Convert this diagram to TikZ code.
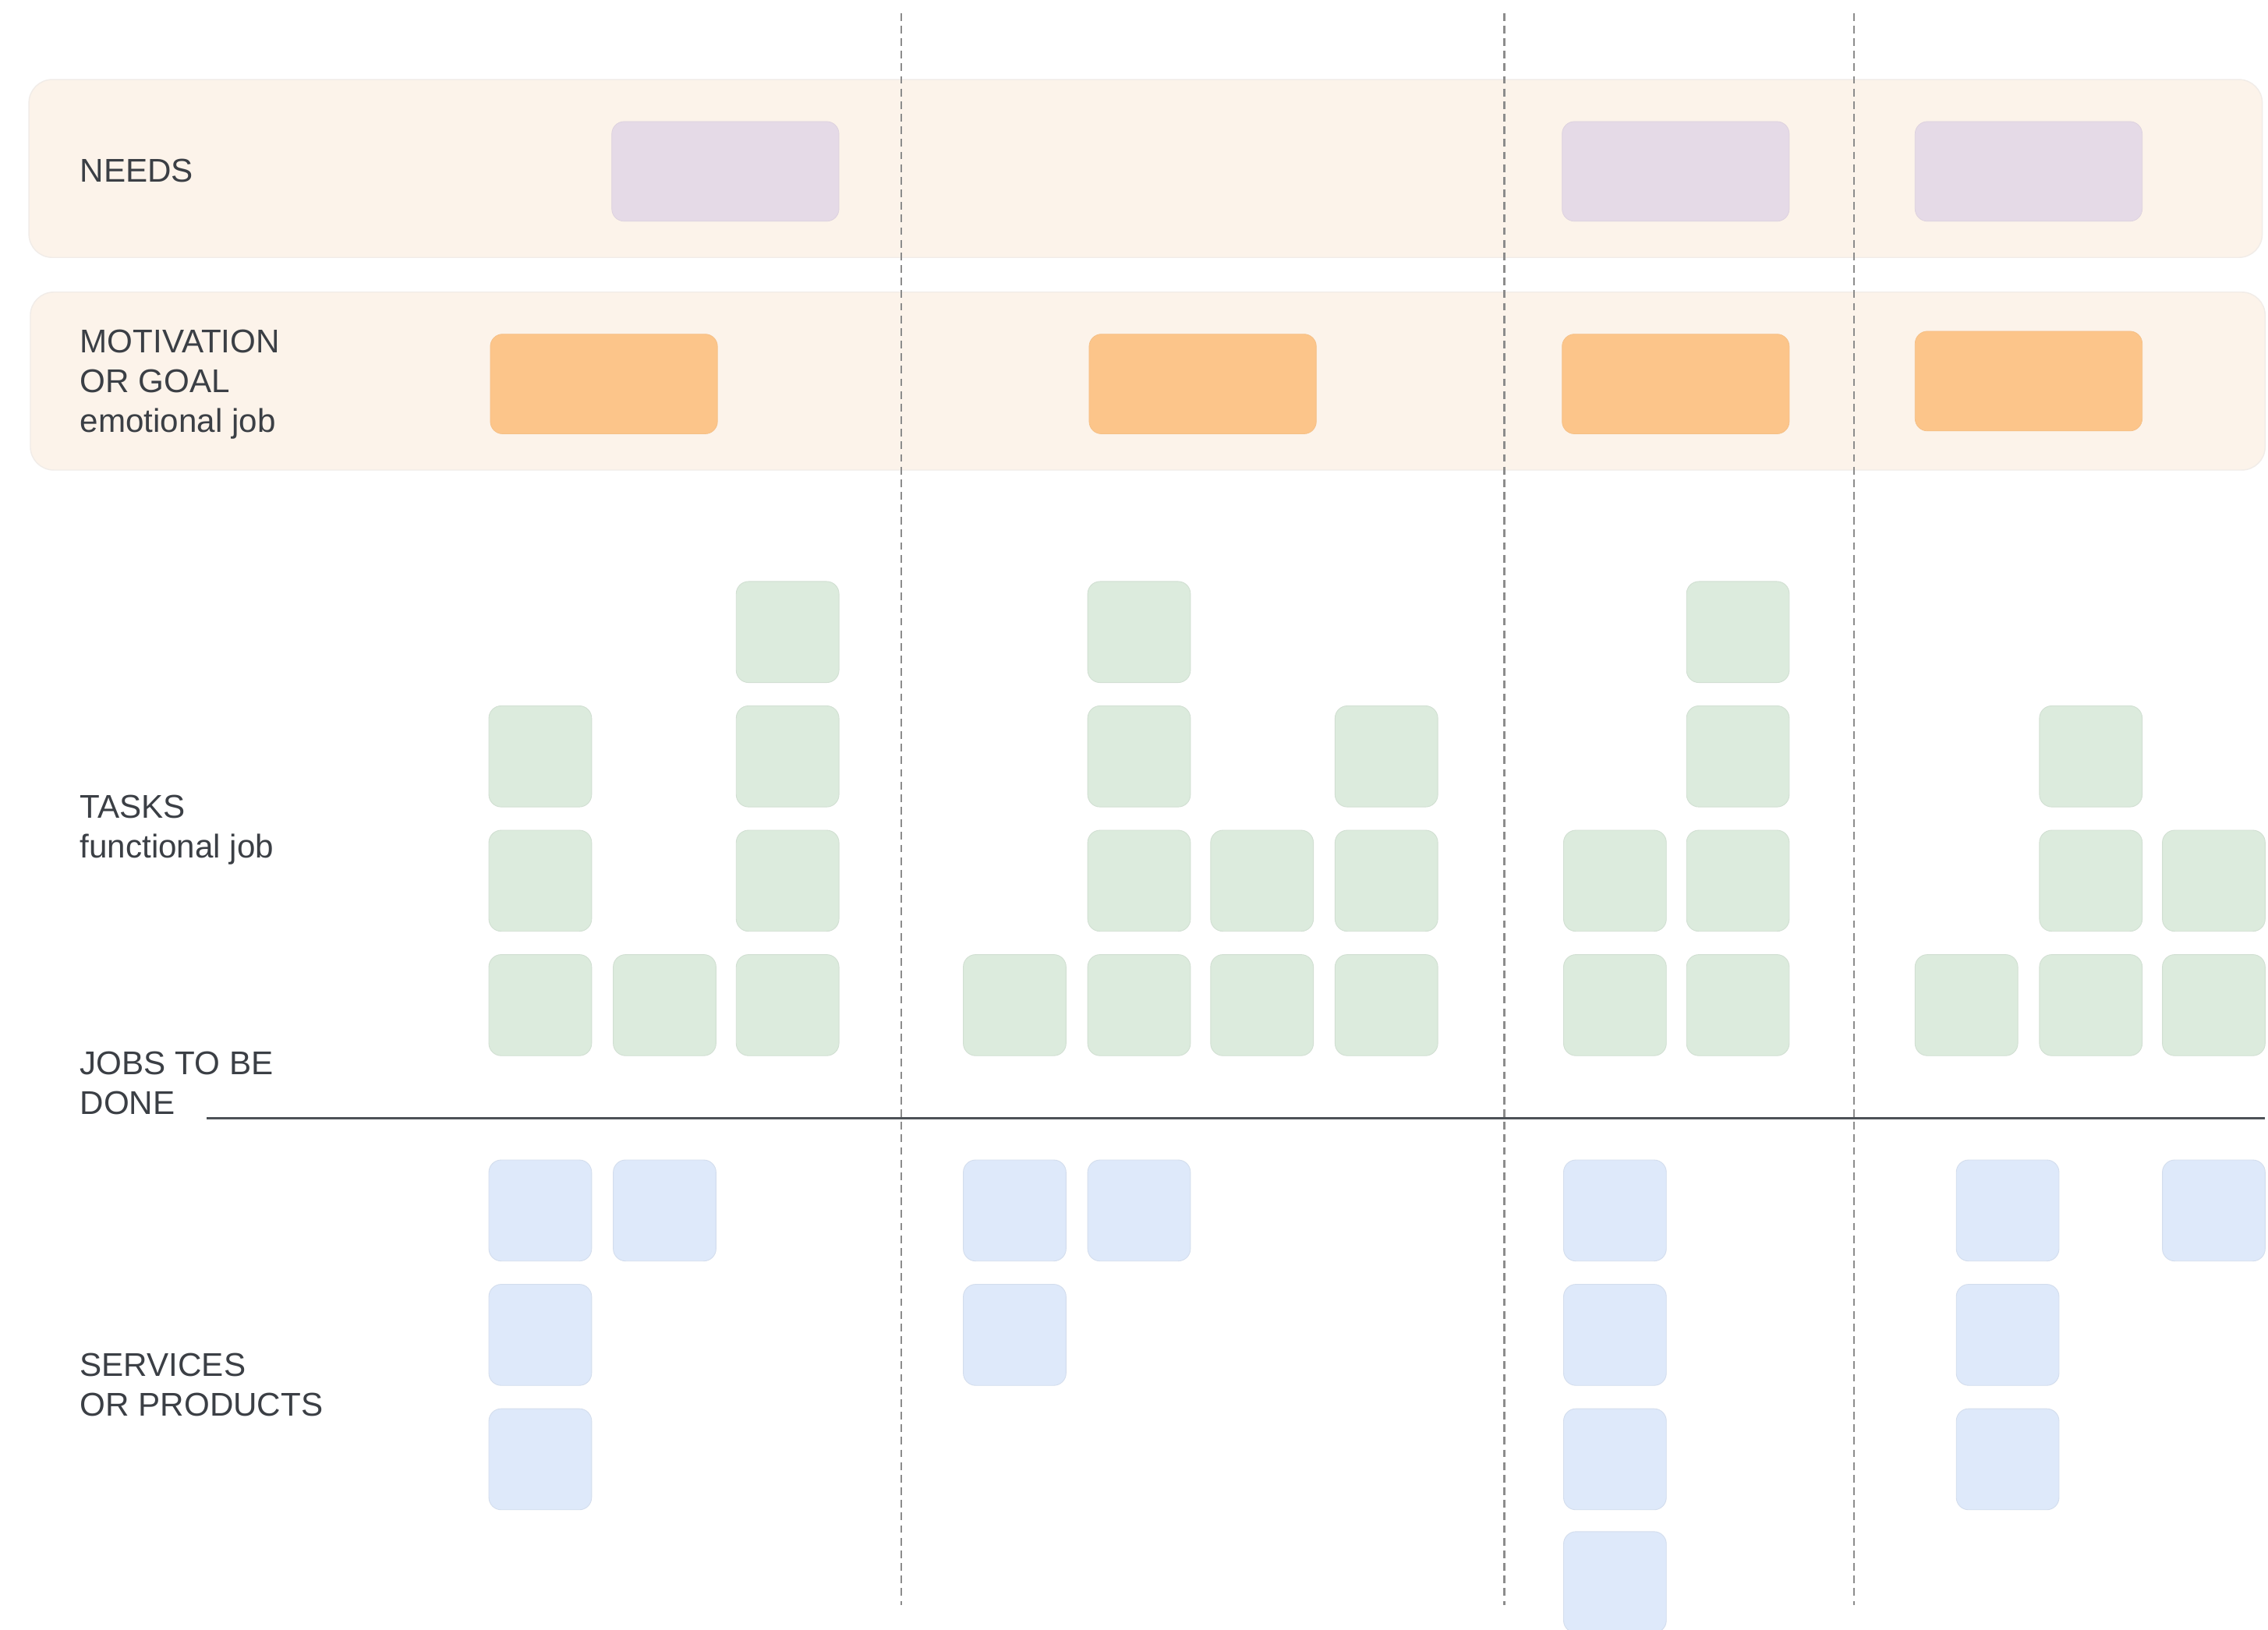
\documentclass[tikz,border=0pt]{standalone}
\usepackage{fontspec}
\setmainfont{Liberation Sans}
\definecolor{bandbg}{HTML}{FCF3EA}
\definecolor{bandedge}{HTML}{F1ECE8}
\definecolor{needc}{HTML}{E5DAE7}
\definecolor{motc}{HTML}{FCC58A}
\definecolor{taskc}{HTML}{DCEBDD}
\definecolor{servc}{HTML}{DEE9FA}
\definecolor{dashc}{HTML}{8C8C8C}
\definecolor{linec}{HTML}{4D5257}
\definecolor{txtc}{HTML}{3B3F45}
\begin{document}
\begin{tikzpicture}[x=0.018553cm,y=-0.018553cm,
  band/.style={fill=bandbg,draw=bandedge,line width=0.4pt,rounded corners=8.5pt},
  bigbox/.style={rectangle,rounded corners=4.5pt,minimum width=82.9pt,minimum height=36.4pt,inner sep=0pt},
  needbox/.style={bigbox,fill=needc,draw=needc!96!black,line width=0.2pt},
  motbox/.style={bigbox,fill=motc,draw=motc!97!black,line width=0.2pt},
  smallbox/.style={rectangle,rounded corners=4.5pt,minimum width=37.5pt,minimum height=36.9pt,inner sep=0pt,line width=0.25pt},
  taskbox/.style={smallbox,fill=taskc,draw=taskc!95!black},
  servbox/.style={smallbox,fill=servc,draw=servc!95!black},
  divider/.style={draw=dashc,line width=0.6pt,dash pattern=on 2.8pt off 1.8pt},
  lbl/.style={anchor=base west,inner sep=0pt,align=left,text=txtc,font=\fontsize{12pt}{14.5pt}\selectfont}]
\useasboundingbox (0,0) rectangle (1568,1127);
\fill[white] (0,0) rectangle (1568,1127);
% bands
\draw[band] (20,55) rectangle (1564,178);
\draw[band] (21,202) rectangle (1566,325);
% dividers
\foreach \x/\n in {623/d1,1040/d2,1282/d3}{
  \coordinate (\n t) at (\x,9);
  \coordinate (\n b) at (\x,1110);
  \draw[divider] (\n t) -- (\n b);
}
% baseline
\coordinate (hl) at (143,773);
\coordinate (hr) at (1566,773);
\draw[draw=linec,line width=0.8pt] (hl) -- (hr);
% needs
\node[needbox] (n1) at (501.5,118.5) {};
\node[needbox] (n2) at (1158.5,118.5) {};
\node[needbox] (n3) at (1402.5,118.5) {};
% motivation
\node[motbox] (m1) at (417.5,265.5) {};
\node[motbox] (m2) at (831.5,265.5) {};
\node[motbox] (m3) at (1158.5,265.5) {};
\node[motbox] (m4) at (1402.5,263.5) {};
% tasks (rows: 1=437, 2=523, 3=609, 4=695)
\foreach \x/\y/\n in {
  373.5/523/ta1, 373.5/609/ta2, 373.5/695/ta3,
  459.5/695/tb1,
  544.5/437/tc1, 544.5/523/tc2, 544.5/609/tc3, 544.5/695/tc4,
  701.5/695/td1,
  787.5/437/te1, 787.5/523/te2, 787.5/609/te3, 787.5/695/te4,
  872.5/609/tf1, 872.5/695/tf2,
  958.5/523/tg1, 958.5/609/tg2, 958.5/695/tg3,
  1116.5/609/th1, 1116.5/695/th2,
  1201.5/437/ti1, 1201.5/523/ti2, 1201.5/609/ti3, 1201.5/695/ti4,
  1359.5/695/tj1,
  1445.5/523/tk1, 1445.5/609/tk2, 1445.5/695/tk3,
  1530.5/609/tl1, 1530.5/695/tl2}{
  \node[taskbox] (\n) at (\x,\y) {};
}
% services (rows: 837, 923, 1009, 1094)
\foreach \x/\y/\n in {
  373.5/837/sa1, 373.5/923/sa2, 373.5/1009/sa3,
  459.5/837/sb1,
  701.5/837/sc1, 701.5/923/sc2,
  787.5/837/sd1,
  1116.5/837/se1, 1116.5/923/se2, 1116.5/1009/se3, 1116.5/1094/se4,
  1388/837/sf1, 1388/923/sf2, 1388/1009/sf3,
  1530.5/837/sg1}{
  \node[servbox] (\n) at (\x,\y) {};
}
% labels (anchor = baseline of last line)
\node[lbl] (lneeds) at (55,125.6) {NEEDS};
\node[lbl] (lmot) at (55,299) {MOTIVATION\\OR GOAL\\emotional job};
\node[lbl] (ltask) at (55,593) {TASKS\\functional job};
\node[lbl] (ljob) at (55,770.5) {JOBS TO BE\\DONE};
\node[lbl] (lserv) at (55,979) {SERVICES\\OR PRODUCTS};
\end{tikzpicture}
\end{document}
